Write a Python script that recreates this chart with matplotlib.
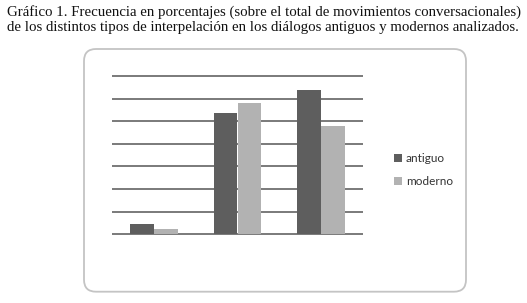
import matplotlib
matplotlib.use("Agg")
import matplotlib.pyplot as plt
import numpy as np
from matplotlib.patches import FancyBboxPatch, Patch

categories = ["tipo 1", "tipo 2", "tipo 3"]
antiguo = [2.2, 26.8, 31.8]
moderno = [1.1, 29.0, 24.0]
series_names = ["antiguo", "moderno"]
colors = ["#5e5e5e", "#b2b2b2"]
title = ("Gráfico 1. Frecuencia en porcentajes (sobre el total de movimientos conversacionales)\n"
         "de los distintos tipos de interpelación en los diálogos antiguos y modernos analizados.")

W, H = 527, 303
fig = plt.figure(figsize=(W / 100, H / 100), dpi=100)
fig.patch.set_facecolor("white")

# title in serif, two lines
fig.text(7 / W, 1 - 5 / H, title, ha="left", va="top", family="Liberation Serif",
         fontsize=10.7, linespacing=1.25, color="#111111")

# rounded frame around the chart, kept behind the axes
frame = FancyBboxPatch((0.84, 0.113), 3.82, 2.427, boxstyle="round,pad=0,rounding_size=0.12",
                       transform=fig.dpi_scale_trans, facecolor="white",
                       edgecolor="#c4c4c4", linewidth=1.3, zorder=-5)
fig.patches.append(frame)

# axes placed in pixel terms
left, right = 112.3, 362.7
y0px, y35px = 234.3, 76.0
unit = (y0px - y35px) / 35
bot = y0px + 0.6 * unit
top = y35px - 0.6 * unit
ax = fig.add_axes([left / W, 1 - bot / H, (right - left) / W, (bot - top) / H])
ax.set_facecolor("none")
ax.set_zorder(2)

x = np.arange(len(categories))
w = 0.287
ax.bar(x - w / 2, antiguo, w, color=colors[0], zorder=3)
ax.bar(x + w / 2, moderno, w, color=colors[1], zorder=3)

ax.set_xlim(-0.5, 2.5)
ax.set_ylim(-0.6, 35.6)
ax.set_yticks(np.arange(0, 36, 5))
ax.yaxis.grid(True, color="#7a7a7a", linewidth=1.4, zorder=1)
ax.set_axisbelow(True)
ax.tick_params(left=False, bottom=False, labelleft=False, labelbottom=False)
for s in ax.spines.values():
    s.set_visible(False)

handles = [Patch(facecolor=c, edgecolor="none") for c in colors]
fig.legend(handles, series_names, loc="center left", bbox_to_anchor=(388 / W, 1 - 170 / H),
           frameon=False, prop={"family": "Lato", "size": 8.5}, handlelength=0.7,
           handleheight=0.7, handletextpad=0.3, labelspacing=1.05, borderpad=0,
           labelcolor="#333333")

fig.savefig("out.png", dpi=100)
